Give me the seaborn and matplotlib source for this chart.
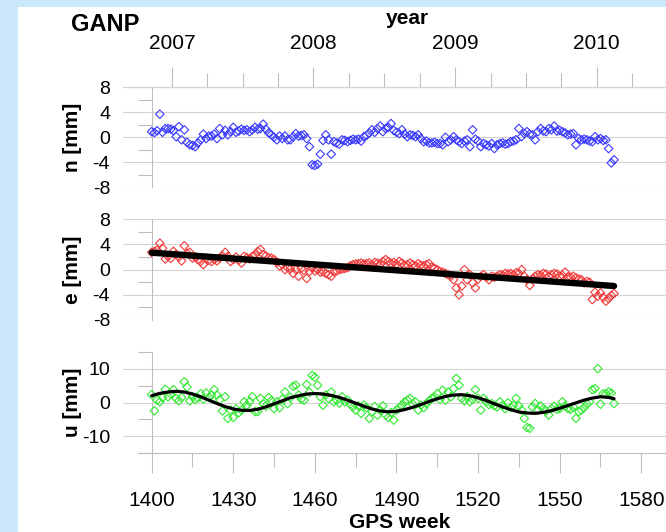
import numpy as np
import matplotlib
matplotlib.use("Agg")
import matplotlib.pyplot as plt
from matplotlib.patches import Rectangle
from matplotlib.ticker import FixedLocator
import seaborn as sns

# GPS weeks (one solution per week)
weeks = list(range(1400, 1571))

# north component [mm]
n_mm = [0.9, 0.75, 1.05, 3.7, 0.8, 1.4, 1.4, 1.3, 1.1, 0.1,
        1.7, -0.4, 1.2, -0.8, -1.2, -1.3, -1.5, -0.9, -0.4, 0.5,
        -0.2, 0.2, 0.2, 0.5, -0.2, 1.4, 0.4, 1.1, 0.4, 0.9,
        1.6, 0.8, 1.0, 1.3, 1.1, 1.2, 0.9, 1.2, 1.6, 1.3,
        1.4, 2.1, 1.3, 0.7, 0.4, 0.0, -0.4, 0.2, -0.2, 0.2,
        -0.4, -0.4, 0.1, 0.6, 0.2, 0.3, 0.4, -0.2, -1.5, -4.4,
        -4.5, -4.3, -2.7, -0.5, 0.4, -0.4, -2.7, -0.7, -0.9, -1.1,
        -0.4, -0.5, -0.7, -0.5, -0.3, -0.4, -0.3, -0.6, 0.1, 0.3,
        0.7, 1.2, 0.8, 1.4, 1.8, 0.9, 1.4, 1.6, 2.2, 1.1,
        0.8, 0.6, 1.2, 0.5, 0.1, 0.4, 0.3, 0.1, 0.4, -0.2,
        -0.7, -0.6, -0.9, -0.9, -0.8, -1.0, -1.0, -1.2, 0.0, -0.7,
        -0.4, 0.1, -0.4, -0.7, -1.0, -0.6, -0.4, -1.5, 1.2, -0.3,
        -0.6, -1.5, -1.0, -1.2, -1.4, -1.0, -1.8, -1.2, -1.0, -0.9,
        -1.1, -1.0, -0.7, -0.6, -0.4, 1.4, 0.1, 0.6, 0.9, 0.5,
        0.4, -0.4, 0.9, 1.4, 1.0, 0.9, 1.4, 1.2, 1.8, 1.0,
        1.1, 0.9, 0.7, 0.4, 0.5, 0.6, -1.2, -0.2, -0.4, -0.3,
        -0.4, -0.6, -0.7, 0.1, -0.4, -0.2, -0.5, -0.4, -1.8, -4.1,
        -3.6]

# east component [mm]
e_mm = [2.75, 2.9, 3.1, 4.2, 3.4, 1.7, 2.1, 1.8, 2.9, 2.4,
        2.0, 1.4, 3.8, 2.6, 2.75, 1.85, 2.0, 1.6, 1.3, 0.8,
        1.85, 1.5, 1.3, 1.6, 1.4, 1.85, 2.2, 2.75, 2.1, 1.3,
        1.6, 2.0, 1.5, 1.05, 2.1, 1.9, 1.7, 2.1, 2.4, 2.9,
        3.2, 2.4, 2.2, 1.85, 1.85, 1.6, 1.2, 0.6, 0.8, 0.0,
        0.3, 0.1, -0.6, 0.0, -1.05, 0.2, -0.1, -1.4, -0.3, 0.3,
        -0.2, 0.0, -0.4, -0.3, -0.6, -0.8, -1.05, -0.3, -0.2, 0.0,
        0.1, 0.2, 0.3, 0.6, 0.8, 0.9, 0.95, 1.05, 0.9, 0.95,
        1.05, 0.8, 1.15, 1.05, 0.9, 1.3, 1.6, 1.3, 1.0, 1.15,
        0.9, 1.3, 1.05, 0.7, 0.8, 1.05, 0.8, 0.6, 0.95, 0.7,
        0.6, 0.8, 0.95, 0.4, 0.2, 0.0, -0.3, -0.4, -0.6, -0.8,
        -1.05, -1.6, -2.9, -4.0, -2.6, 0.0, -1.6, -0.8, -2.1, -2.9,
        -1.5, -1.05, -0.8, -1.2, -1.6, -1.05, -1.2, -1.05, -0.8, -0.9,
        -0.6, -0.7, -0.6, -0.8, -0.5, -0.6, 0.0, -1.05, -1.6, -2.5,
        -1.5, -1.05, -0.8, -0.9, -0.6, -0.7, -1.05, -0.8, -0.6, -0.7,
        -1.05, -0.9, -0.4, -1.15, -1.2, -1.05, -1.3, -1.5, -1.6, -2.1,
        -1.85, -2.0, -4.75, -3.6, -4.2, -3.7, -4.4, -5.0, -4.6, -4.1,
        -3.8]

# up component [mm]
u_mm = [2.35, -2.45, 0.7, 0.2, 1.5, 3.9, 1.7, 2.5, 3.8, 1.2,
        0.5, 1.5, 6.1, 4.6, 0.5, 1.7, 0.9, 1.4, 2.6, 1.0,
        2.8, 1.5, 2.2, 3.8, 2.2, 0.8, -2.5, 1.7, -4.7, -2.25,
        -4.4, -1.9, -3.0, -2.25, 0.2, -0.8, 0.3, 1.7, -2.7, -2.7,
        1.2, -0.4, -1.1, 1.5, 0.6, -1.8, 0.2, -1.5, 1.0, 3.1,
        -0.3, 1.5, 4.8, 5.1, 2.2, 1.0, 0.7, 5.3, 3.0, 8.0,
        7.5, 5.1, 1.7, -0.8, 2.2, 1.2, 3.1, 0.2, 0.7, -0.2,
        1.7, 0.2, 0.7, -0.5, -1.3, -2.25, -1.0, -3.2, -0.8, -1.5,
        -4.7, -2.7, -1.2, -3.7, -2.25, -1.0, -3.7, -4.4, -3.0, -5.2,
        -2.25, -1.5, -0.8, 0.2, 0.7, 1.2, -0.5, 0.2, -2.25, -0.8,
        -1.5, -0.3, 0.5, 1.2, 1.7, 2.6, 0.9, 3.6, 0.7, 3.1,
        1.7, 4.1, 7.1, 5.1, 1.2, 0.5, 1.7, 0.2, 1.0, 3.8,
        1.2, -2.25, 1.2, 0.2, -0.6, -0.3, -1.0, -1.3, 0.2, -0.8,
        -1.8, -0.1, -1.5, -0.8, 1.2, -1.0, -2.25, -4.7, -7.4, -7.6,
        -1.3, -0.3, -2.25, -1.0, -1.8, -2.5, -3.7, -1.8, -1.1, -2.0,
        -1.8, 0.2, -1.0, -1.8, -2.0, -1.3, -4.7, -2.7, -2.25, -1.5,
        -0.5, 0.2, 3.8, 4.1, 10.0, -0.5, 2.6, 2.6, 3.1, 2.8,
        -0.3]

# linear trend in east
trend_weeks = [1400, 1570]
e_trend = [2.7, -2.6]

# seasonal fit in up
fit_weeks = [1400, 1403, 1406, 1409, 1412, 1415, 1418, 1421, 1424, 1427,
             1430, 1433, 1436, 1439, 1442, 1445, 1448, 1451, 1454, 1457,
             1460, 1463, 1466, 1469, 1472, 1475, 1478, 1481, 1484, 1487,
             1490, 1493, 1496, 1499, 1502, 1505, 1508, 1511, 1514, 1517,
             1520, 1523, 1526, 1529, 1532, 1535, 1538, 1541, 1544, 1547,
             1550, 1553, 1556, 1559, 1562, 1565, 1568, 1570]
u_fit = [2.0, 2.7, 3.1, 3.3, 3.1, 2.5, 1.7, 0.7, -0.3, -1.2,
         -1.9, -2.3, -2.35, -2.0, -1.3, -0.4, 0.5, 1.4, 2.0, 2.5,
         2.65, 2.5, 2.1, 1.5, 0.7, -0.2, -1.1, -1.9, -2.5, -2.75,
         -2.6, -2.1, -1.4, -0.6, 0.3, 1.1, 1.8, 2.2, 2.3, 2.0,
         1.4, 0.6, -0.4, -1.3, -2.1, -2.8, -3.1, -3.2, -2.9, -2.4,
         -1.7, -0.9, -0.1, 0.7, 1.3, 1.7, 1.5, 1.1]

gps_ticks = [1400, 1430, 1460, 1490, 1520, 1550, 1580]
gps_minor = [1415, 1445, 1475, 1505, 1535, 1565]
years = [2007, 2008, 2009, 2010]
year_labels = ["2007", "2008", "2009", "2010"]
quarters = [2007.25, 2007.5, 2007.75, 2008.25, 2008.5, 2008.75,
            2009.25, 2009.5, 2009.75, 2010.25]

sns.set_theme(style="white")
plt.rcParams["font.family"] = ["Liberation Sans", "DejaVu Sans"]
plt.rcParams["axes.unicode_minus"] = False
plt.rcParams["text.color"] = "black"

W, H = 666, 532
axis_grey = "#bdbdbd"
grid_grey = "#d4d4d4"

fig = plt.figure(figsize=(6.66, 5.32), dpi=100)
fig.patch.set_facecolor("#cce9fc")
fig.patches.append(Rectangle((18 / W, 0), 1, 1 - 7 / H, transform=fig.transFigure,
                             facecolor="white", edgecolor="none", zorder=-1))


def box(top, bottom):
    return [123 / W, 1 - bottom / H, 1 - 123 / W, (bottom - top) / H]


ax_n = fig.add_axes(box(87.3, 187.3))
ax_e = fig.add_axes(box(219.3, 320.0))
ax_u = fig.add_axes(box(351.7, 453.3))

sns.scatterplot(x=weeks, y=n_mm, marker="D", s=19, facecolor="none",
                edgecolor="#3a3aff", linewidth=0.8, ax=ax_n, zorder=3)
sns.scatterplot(x=weeks, y=e_mm, marker="D", s=19, facecolor="none",
                edgecolor="#f03a3a", linewidth=0.8, ax=ax_e, zorder=3)
sns.lineplot(x=trend_weeks, y=e_trend, color="black", linewidth=4.6, ax=ax_e, zorder=4)
sns.scatterplot(x=weeks, y=u_mm, marker="D", s=19, facecolor="none",
                edgecolor="#33e833", linewidth=0.8, ax=ax_u, zorder=3)
sns.lineplot(x=fit_weeks, y=u_fit, color="black", linewidth=2.3, ax=ax_u, zorder=4)

panels = [(ax_n, (-8, 8), [-8, -4, 0, 4, 8], [-6, -2, 2, 6]),
          (ax_e, (-8, 8), [-8, -4, 0, 4, 8], [-6, -2, 2, 6]),
          (ax_u, (-15, 15), [-10, 0, 10], [-15, -5, 5, 15])]

for ax, lim, major, minor in panels:
    ax.set_facecolor("none")
    ax.set_xlim(1389.45, 1589.1)
    ax.set_ylim(*lim)
    ax.set_yticks(major)
    ax.yaxis.set_minor_locator(FixedLocator(minor))
    for s in ["top", "right", "bottom"]:
        ax.spines[s].set_visible(False)
    ax.spines["left"].set_position(("data", 1400))
    ax.spines["left"].set_color(axis_grey)
    ax.spines["left"].set_linewidth(0.8)
    ax.grid(False)
    ax.grid(axis="y", which="major", color=grid_grey, linewidth=0.8)
    ax.tick_params(axis="y", which="major", left=True, length=0, pad=30,
                   labelsize=14, labelcolor="black")
    ax.tick_params(axis="y", which="minor", left=True, length=9.9, width=0.8,
                   color=axis_grey, direction="out")
    ax.tick_params(axis="x", which="both", bottom=False, labelbottom=False)
    ax.set_xlabel("")
    ax.set_ylabel("")

# bottom GPS-week axis
ax_u.spines["bottom"].set_visible(True)
ax_u.spines["bottom"].set_bounds(1395.1, 1589.1)
ax_u.spines["bottom"].set_color(axis_grey)
ax_u.spines["bottom"].set_linewidth(0.8)
ax_u.set_xticks(gps_ticks)
ax_u.xaxis.set_minor_locator(FixedLocator(gps_minor))
ax_u.tick_params(axis="x", which="major", bottom=True, labelbottom=True, length=14.4,
                 width=0.8, color=axis_grey, direction="out", pad=13, labelsize=15,
                 labelcolor="black")
ax_u.tick_params(axis="x", which="minor", bottom=True, length=9.9, width=0.8,
                 color=axis_grey, direction="out")


# top year axis
def wk2yr(w):
    return 2007 + (np.asarray(w, dtype=float) - 1407.4) / 52.08


def yr2wk(y):
    return 1407.4 + (np.asarray(y, dtype=float) - 2007) * 52.08


sec = ax_n.secondary_xaxis("top", functions=(wk2yr, yr2wk))
sec.set_xticks(years, labels=year_labels)
sec.xaxis.set_minor_locator(FixedLocator(quarters))
sec.tick_params(which="major", top=True, length=14.6, width=0.8, color=axis_grey,
                direction="out", pad=10.3, labelsize=15, labelcolor="black")
sec.tick_params(which="minor", top=True, length=10.3, width=0.8, color=axis_grey,
                direction="out")
sec.spines["top"].set_color(axis_grey)
sec.spines["top"].set_linewidth(0.8)

# labels
fig.text(71 / W, 1 - 31 / H, "GANP", fontsize=17, fontweight="bold", ha="left", va="baseline")
fig.text(407 / W, 1 - 24.5 / H, "year", fontsize=15, fontweight="bold", ha="center", va="baseline")
fig.text(400 / W, 1 - 522 / H, "GPS week", fontsize=15, fontweight="bold", ha="center", va="center")
for label, yc in [("n [mm]", 137.3), ("e [mm]", 269.7), ("u [mm]", 402.5)]:
    fig.text(72 / W, 1 - yc / H, label, fontsize=15, fontweight="bold", rotation=90,
             ha="center", va="center")

fig.savefig("out.png", dpi=100, facecolor=fig.get_facecolor())
